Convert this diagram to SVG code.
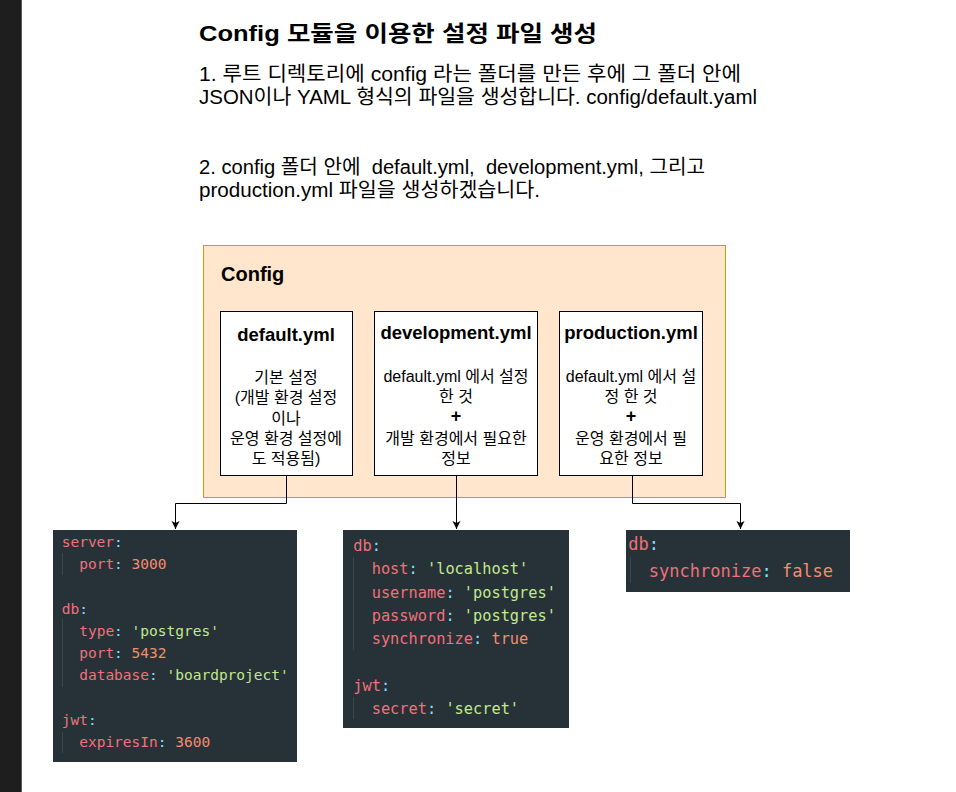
<svg xmlns="http://www.w3.org/2000/svg" width="956" height="792" viewBox="0 0 956 792">
<defs>
<style>
.t{font-family:"Liberation Sans","Noto Sans CJK KR",sans-serif;fill:#000}
.h1{font-size:21.5px;font-weight:bold}
.p{font-size:20px}
.lbl{font-size:20px;font-weight:bold}
.bt{font-size:18.5px;font-weight:bold;text-anchor:middle}
.bd{font-size:16px;text-anchor:middle}
.plus{font-size:18px;font-weight:bold;text-anchor:middle}
.box{fill:#fff;stroke:#000;stroke-width:1}
.code{fill:#263238}
.c{font-family:"DejaVu Sans Mono",monospace}
.k{fill:#f07178}
.o{fill:#89ddff}
.s{fill:#c3e88d}
.n{fill:#f78c6c}
.g{stroke:#37474f;stroke-width:1}
.e{fill:none;stroke:#000;stroke-width:1}
</style>
<marker id="arr" markerWidth="10" markerHeight="10" refX="9" refY="5" orient="auto" markerUnits="userSpaceOnUse">
<path d="M1,1 L9,5 L1,9 L3,5 Z" fill="#000"/>
</marker>
</defs>
<rect x="0" y="0" width="956" height="792" fill="#fff"/>
<rect x="0" y="0" width="21" height="792" fill="#1e1e1e"/>
<rect x="21" y="0" width="1" height="792" fill="#5a5a5a"/>

<g id="heading">
<text class="t h1" x="199" y="41" textLength="398" lengthAdjust="spacingAndGlyphs">Config 모듈을 이용한 설정 파일 생성</text>
<text class="t p" x="199" y="80.5" textLength="542" lengthAdjust="spacingAndGlyphs">1. 루트 디렉토리에 config 라는 폴더를 만든 후에 그 폴더 안에</text>
<text class="t p" x="199" y="104" textLength="558" lengthAdjust="spacingAndGlyphs">JSON이나 YAML 형식의 파일을 생성합니다. config/default.yaml</text>
<text class="t p" x="199" y="173.5" xml:space="preserve" textLength="506" lengthAdjust="spacingAndGlyphs">2. config 폴더 안에  default.yml,  development.yml, 그리고</text>
<text class="t p" x="199" y="197" textLength="341" lengthAdjust="spacingAndGlyphs">production.yml 파일을 생성하겠습니다.</text>
</g>

<g id="config">
<rect x="203.5" y="245.5" width="522" height="252" fill="#ffe6cc" stroke="#d79b00" stroke-width="1"/>
<text class="t lbl" x="221" y="280.5">Config</text>
</g>

<g id="default-yml">
<rect class="box" x="220.5" y="311.5" width="132" height="164"/>
<text class="t bt" x="286" y="340.5">default.yml</text>
<text class="t bd" x="286" y="383">기본 설정</text>
<text class="t bd" x="286" y="403">(개발 환경 설정</text>
<text class="t bd" x="286" y="423.5">이나</text>
<text class="t bd" x="286" y="443.5">운영 환경 설정에</text>
<text class="t bd" x="286" y="464">도 적용됨)</text>
</g>

<g id="development-yml">
<rect class="box" x="374.5" y="311.5" width="163" height="164"/>
<text class="t bt" x="456" y="338.5">development.yml</text>
<text class="t bd" x="456" y="382">default.yml 에서 설정</text>
<text class="t bd" x="456" y="402">한 것</text>
<text class="t plus" x="456" y="421.5">+</text>
<text class="t bd" x="456" y="443.5">개발 환경에서 필요한</text>
<text class="t bd" x="456" y="464">정보</text>
</g>

<g id="production-yml">
<rect class="box" x="559.5" y="311.5" width="143" height="164"/>
<text class="t bt" x="631" y="338.5">production.yml</text>
<text class="t bd" x="631" y="382">default.yml 에서 설</text>
<text class="t bd" x="631" y="402">정 한 것</text>
<text class="t plus" x="631" y="421.5">+</text>
<text class="t bd" x="631" y="443.5">운영 환경에서 필</text>
<text class="t bd" x="631" y="464">요한 정보</text>
</g>

<g id="connectors">
<path class="e" d="M286.5,475.5 V503.5 H175.5 V529" marker-end="url(#arr)"/>
<path class="e" d="M456.5,475.5 V529" marker-end="url(#arr)"/>
<path class="e" d="M632.5,475.5 V503.5 H740.5 V529" marker-end="url(#arr)"/>
</g>

<g id="default-code">
<rect class="code" x="53" y="530" width="244" height="232"/>
<line class="g" x1="62.5" y1="553" x2="62.5" y2="575"/>
<line class="g" x1="62.5" y1="618" x2="62.5" y2="687"/>
<line class="g" x1="62.5" y1="732" x2="62.5" y2="753"/>
<g class="c" font-size="14.5">
<text x="61.7" y="547"><tspan class="k">server</tspan><tspan class="o">:</tspan></text>
<text x="79.2" y="569.2"><tspan class="k">port</tspan><tspan class="o">:</tspan> <tspan class="n">3000</tspan></text>
<text x="61.7" y="613.6"><tspan class="k">db</tspan><tspan class="o">:</tspan></text>
<text x="79.2" y="635.8"><tspan class="k">type</tspan><tspan class="o">:</tspan> <tspan class="s">'postgres'</tspan></text>
<text x="79.2" y="658"><tspan class="k">port</tspan><tspan class="o">:</tspan> <tspan class="n">5432</tspan></text>
<text x="79.2" y="680.2"><tspan class="k">database</tspan><tspan class="o">:</tspan> <tspan class="s">'boardproject'</tspan></text>
<text x="61.7" y="724.6"><tspan class="k">jwt</tspan><tspan class="o">:</tspan></text>
<text x="79.2" y="746.8"><tspan class="k">expiresIn</tspan><tspan class="o">:</tspan> <tspan class="n">3600</tspan></text>
</g>
</g>

<g id="development-code">
<rect class="code" x="343" y="530" width="226" height="198"/>
<line class="g" x1="353.5" y1="557" x2="353.5" y2="650"/>
<line class="g" x1="353.5" y1="697" x2="353.5" y2="719"/>
<g class="c" font-size="15.3">
<text x="353.3" y="551"><tspan class="k">db</tspan><tspan class="o">:</tspan></text>
<text x="371.7" y="574.3"><tspan class="k">host</tspan><tspan class="o">:</tspan> <tspan class="s">'localhost'</tspan></text>
<text x="371.7" y="597.7"><tspan class="k">username</tspan><tspan class="o">:</tspan> <tspan class="s">'postgres'</tspan></text>
<text x="371.7" y="621"><tspan class="k">password</tspan><tspan class="o">:</tspan> <tspan class="s">'postgres'</tspan></text>
<text x="371.7" y="644.3"><tspan class="k">synchronize</tspan><tspan class="o">:</tspan> <tspan class="n">true</tspan></text>
<text x="353.3" y="691"><tspan class="k">jwt</tspan><tspan class="o">:</tspan></text>
<text x="371.7" y="714.3"><tspan class="k">secret</tspan><tspan class="o">:</tspan> <tspan class="s">'secret'</tspan></text>
</g>
</g>

<g id="production-code">
<rect class="code" x="626" y="530" width="224" height="62"/>
<line class="g" x1="630.5" y1="557" x2="630.5" y2="583"/>
<g class="c" font-size="17">
<text x="628.3" y="550"><tspan class="k">db</tspan><tspan class="o">:</tspan></text>
<text x="648.8" y="577"><tspan class="k">synchronize</tspan><tspan class="o">:</tspan> <tspan class="n">false</tspan></text>
</g>
</g>
</svg>
